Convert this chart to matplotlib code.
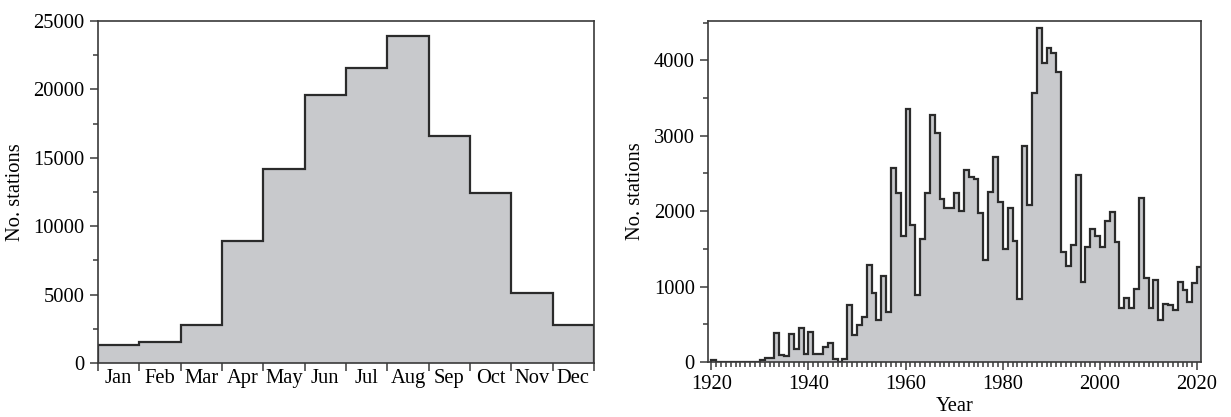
import matplotlib.pyplot as plt
import numpy as np
from matplotlib.ticker import MultipleLocator, FixedLocator, NullFormatter, FixedFormatter

# monthly totals (left panel)
months = ['Jan', 'Feb', 'Mar', 'Apr', 'May', 'Jun', 'Jul', 'Aug', 'Sep', 'Oct', 'Nov', 'Dec']
month_counts = [1300, 1550, 2750, 8950, 14200, 19600, 21600, 23900, 16600, 12400, 5150, 2750]

# yearly totals 1920-2020 (right panel)
first_year = 1920
year_counts = [
    25, 0, 0, 0, 0, 0, 0, 0, 0, 0,
    30, 55, 55, 378, 90, 75, 372, 170, 455, 105,
    402, 108, 108, 195, 252, 45, 0, 45, 752, 354,
    495, 600, 1283, 916, 553, 1137, 664, 2575, 2235, 1668,
    3354, 1814, 894, 1624, 2235, 3274, 3040, 2159, 2035, 2035,
    2235, 2004, 2544, 2456, 2420, 1969, 1350, 2257, 2721, 2115,
    1504, 2035, 1606, 841, 2867, 2080, 3571, 4421, 3966, 4156,
    4090, 3847, 1455, 1278, 1547, 2476, 1056, 1525, 1768, 1675,
    1520, 1868, 1985, 1590, 721, 845, 721, 962, 2180, 1112,
    721, 1083, 553, 774, 752, 694, 1061, 951, 792, 1044,
    1260,
]

plt.rcParams['font.family'] = ['Liberation Serif', 'DejaVu Serif']
plt.rcParams['font.size'] = 14.8

fill_col = '#c8c9cc'
line_col = '#2b2b2b'
spine_col = '#3a3a3a'

fig = plt.figure(figsize=(12.31, 4.17), dpi=100)
ax1 = fig.add_axes([0.0796, 0.1295, 0.4029, 0.8201])
ax2 = fig.add_axes([0.5751, 0.1319, 0.4005, 0.8177])

# left: months
edges_m = np.arange(len(months) + 1)
ax1.stairs(month_counts, edges_m, fill=True, color=fill_col)
ax1.stairs(month_counts, edges_m, color=line_col, lw=1.6)
ax1.set_xlim(0, 12)
ax1.set_ylim(0, 25000)
ax1.xaxis.set_major_locator(FixedLocator(edges_m))
ax1.xaxis.set_major_formatter(NullFormatter())
ax1.xaxis.set_minor_locator(FixedLocator(edges_m[:-1] + 0.5))
ax1.xaxis.set_minor_formatter(FixedFormatter(months))
ax1.yaxis.set_major_locator(MultipleLocator(5000))
ax1.yaxis.set_minor_locator(MultipleLocator(2500))
ax1.set_ylabel('No. stations', labelpad=6)

# right: years
edges_y = np.arange(first_year, first_year + len(year_counts) + 1)
ax2.stairs(year_counts, edges_y, fill=True, color=fill_col)
ax2.stairs(year_counts, edges_y, color=line_col, lw=1.6)
ax2.set_xlim(1919.3, 2020.8)
ax2.set_ylim(0, 4520)
ax2.xaxis.set_major_locator(MultipleLocator(20))
ax2.xaxis.set_minor_locator(MultipleLocator(1))
ax2.yaxis.set_major_locator(MultipleLocator(1000))
ax2.yaxis.set_minor_locator(MultipleLocator(500))
ax2.set_ylabel('No. stations', labelpad=6)
ax2.set_xlabel('Year', labelpad=2)

for ax in (ax1, ax2):
    for s in ax.spines.values():
        s.set_color(spine_col)
        s.set_linewidth(1.2)
    ax.tick_params(which='both', direction='out', color=spine_col, width=1.1,
                   top=False, right=False)
    ax.tick_params(which='major', length=6)
    ax.tick_params(which='minor', length=3.5)

ax1.tick_params(axis='x', which='minor', length=0, pad=4)

fig.savefig('out.png', dpi=100)
